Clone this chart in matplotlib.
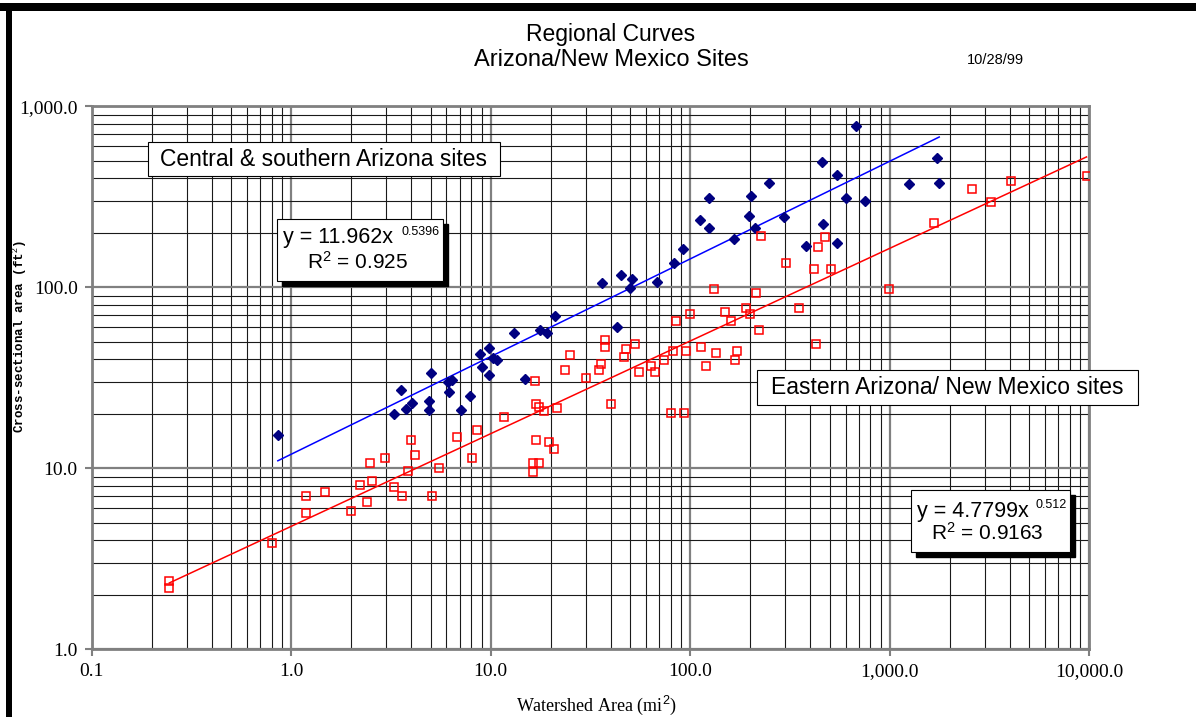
import matplotlib
matplotlib.use("Agg")
import matplotlib.pyplot as plt
from matplotlib.patches import Rectangle
from matplotlib.ticker import FixedLocator, FixedFormatter, LogLocator, NullFormatter
import numpy as np

# ---------------- data ----------------
central_x = [0.857, 3.29, 3.56, 3.74, 4.03, 4.92, 4.92, 5.01, 6.14, 6.43, 6.19, 7.09,
             7.83, 8.85, 9.79, 9.06, 9.79, 10.26, 10.78, 13.1, 14.8, 17.6, 19.1, 21.0,
             36.1, 45.0, 51.1, 49.7, 42.9, 68.2, 82.6, 91.6, 111.5, 123.7, 123.7, 166,
             202, 198, 212, 247, 294, 382, 458, 681, 545, 600, 747, 463, 545, 1250,
             1729, 1769]
central_y = [15.3, 20.0, 27.0, 21.2, 23.0, 23.6, 21.0, 33.5, 30.1, 30.7, 26.5, 21.1,
             25.0, 42.8, 46.2, 36.1, 32.6, 40.8, 39.7, 56.1, 31.0, 58.1, 56.1, 69.7,
             105, 117, 111, 98.7, 60.6, 107, 137, 162, 235, 310, 212, 185,
             321, 249, 212, 376, 244, 170, 494, 781, 417, 310, 301, 224, 175, 372,
             516, 376]

eastern_x = [0.245, 0.245, 0.799, 1.188, 1.188, 1.48, 2.0, 2.20, 2.41, 2.49, 2.55, 2.96,
             3.27, 3.60, 3.87, 3.98, 4.18, 5.07, 5.50, 6.77, 8.53, 8.10, 11.7, 16.6,
             16.9, 17.4, 18.4, 21.6, 16.9, 19.7, 20.7, 16.3, 17.5, 16.3, 23.5, 25.1,
             30.0, 34.9, 35.7, 37.4, 37.4, 40.2, 46.3, 47.8, 52.6, 55.6, 63.9, 66.9,
             73.6, 82.0, 84.5, 80.4, 93.3, 95.6, 100.1, 113.2, 119.4, 132, 134.6, 148.8,
             160.2, 168.4, 171.7, 190.5, 200, 214.6, 220.3, 226.5, 303.4, 352.5, 415.7,
             427.4, 436, 472, 510, 993, 1662, 2588, 3234, 4030, 9683]
eastern_y = [2.39, 2.18, 3.87, 7.03, 5.64, 7.43, 5.81, 8.05, 6.49, 10.66, 8.51, 11.45,
             7.85, 7.06, 9.70, 14.3, 11.8, 7.06, 10.0, 14.95, 16.3, 11.45, 19.1, 30.5,
             22.7, 21.9, 20.8, 21.5, 14.3, 13.9, 12.8, 10.66, 10.66, 9.5, 34.9, 42.3,
             31.4, 35.1, 37.8, 51.2, 47.0, 22.6, 41.1, 45.6, 48.6, 33.9, 36.9, 33.9,
             39.7, 44.5, 65.2, 20.3, 20.3, 44.5, 70.9, 47.0, 36.9, 97.9, 43.2, 72.8,
             65.2, 39.7, 44.5, 76.6, 70.9, 92.7, 58.1, 192, 135.7, 76.6, 125.7,
             48.6, 167.7, 189, 125.7, 97.9, 225.7, 349, 297, 388, 412]

# power-law trendlines shown on the chart: y = a * x^b
central_fit = (11.962, 0.5396)
eastern_fit = (4.7799, 0.512)

x_ticks = [0.1, 1, 10, 100, 1000, 10000]
x_tick_labels = ["0.1", "1.0", "10.0", "100.0", "1,000.0", "10,000.0"]
y_ticks = [1, 10, 100, 1000]
y_tick_labels = ["1.0", "10.0", "100.0", "1,000.0"]

plt.rcParams["mathtext.fontset"] = "custom"
plt.rcParams["mathtext.rm"] = "Liberation Sans"
plt.rcParams["mathtext.it"] = "Liberation Sans:italic"

# ---------------- figure ----------------
W, H = 1196, 717
fig = plt.figure(figsize=(W / 100, H / 100), dpi=100)
fig.patch.set_facecolor("white")

def fx(px):
    return px / W

def fy(py):
    return 1 - py / H

ax_l, ax_r, ax_t, ax_b = 91.7, 1089.3, 106.3, 649.3
ax = fig.add_axes([fx(ax_l), fy(ax_b), fx(ax_r) - fx(ax_l), fy(ax_t) - fy(ax_b)])
ax.set_xscale("log")
ax.set_yscale("log")
ax.set_xlim(0.1, 10000)
ax.set_ylim(1, 1000)

# grid
ax.xaxis.set_major_locator(FixedLocator(x_ticks))
ax.xaxis.set_major_formatter(FixedFormatter(x_tick_labels))
ax.yaxis.set_major_locator(FixedLocator(y_ticks))
ax.yaxis.set_major_formatter(FixedFormatter(y_tick_labels))
ax.xaxis.set_minor_locator(LogLocator(base=10, subs=np.arange(2, 10)))
ax.yaxis.set_minor_locator(LogLocator(base=10, subs=np.arange(2, 10)))
ax.xaxis.set_minor_formatter(NullFormatter())
ax.yaxis.set_minor_formatter(NullFormatter())
ax.grid(which="major", color="#808080", linewidth=1.6)
ax.grid(which="minor", color="#1a1a1a", linewidth=0.8)
ax.set_axisbelow(True)

for s in ax.spines.values():
    s.set_color("#808080")
    s.set_linewidth(2.0)
ax.tick_params(which="major", direction="out", length=5, width=1.5, color="#808080",
               labelsize=14, pad=5)
ax.tick_params(which="minor", length=0)
for lab in ax.get_xticklabels() + ax.get_yticklabels():
    lab.set_fontfamily("Liberation Serif")

# trendlines
for xs, (a, b), col in [(central_x, central_fit, "#0000FF"), (eastern_x, eastern_fit, "#FF0000")]:
    xr = np.array([min(xs), max(xs)])
    ax.plot(xr, a * xr ** b, color=col, linewidth=1.1, zorder=3)

ax.plot(central_x, central_y, linestyle="none", marker="D", markersize=5.2,
        markerfacecolor="#000080", markeredgecolor="#000080", zorder=4)
ax.plot(eastern_x, eastern_y, linestyle="none", marker="s", markersize=5.2,
        markerfacecolor="none", markeredgecolor="#FF0000", markeredgewidth=1.1, zorder=4)

# ---------------- texts ----------------
sans = "Liberation Sans"
fig.text(fx(611), fy(35), "Regional Curves", ha="center", va="center",
         fontsize=16.5, family=sans)
fig.text(fx(611), fy(60), "Arizona/New Mexico Sites", ha="center", va="center",
         fontsize=17, family=sans)
fig.text(fx(995), fy(60), "10/28/99", ha="center", va="center", fontsize=10.5, family=sans)

fig.text(fx(596), fy(705), "Watershed Area (mi$^2$)", ha="center", va="center",
         fontsize=13, family="Liberation Serif")
fig.text(fx(20), fy(337), "Cross-sectional area (ft$^2$)", ha="center", va="center",
         rotation=90, fontsize=9, family="Liberation Mono", weight="bold")


def box(x0, y0, x1, y1, shadow=0):
    if shadow:
        fig.add_artist(Rectangle((fx(x0 + shadow), fy(y1 + shadow)), fx(x1) - fx(x0),
                                 fy(y0) - fy(y1), transform=fig.transFigure,
                                 facecolor="black", edgecolor="black", zorder=5))
    fig.add_artist(Rectangle((fx(x0), fy(y1)), fx(x1) - fx(x0), fy(y0) - fy(y1),
                             transform=fig.transFigure, facecolor="white",
                             edgecolor="black", linewidth=0.8, zorder=6))


box(148, 142, 500, 176)
fig.text(fx(324), fy(159), "Central & southern Arizona sites", ha="center", va="center",
         fontsize=16.5, family=sans, zorder=7)

box(757, 370, 1138, 405)
fig.text(fx(947), fy(387), "Eastern Arizona/ New Mexico sites", ha="center", va="center",
         fontsize=16.5, family=sans, zorder=7)

box(276.7, 219, 442.7, 280.7, shadow=5)
fig.text(fx(283), fy(238), "y = 11.962x", ha="left", va="center", fontsize=15.5,
         family=sans, zorder=7)
fig.text(fx(402), fy(232), "0.5396", ha="left", va="center", fontsize=9,
         family=sans, zorder=7)
fig.text(fx(358), fy(262), "R$^2$ = 0.925", ha="center", va="center", fontsize=15,
         family=sans, zorder=7)

box(910.7, 490, 1070, 551.7, shadow=5)
fig.text(fx(917), fy(512), "y = 4.7799x", ha="left", va="center", fontsize=15.5,
         family=sans, zorder=7)
fig.text(fx(1035), fy(505), "0.512", ha="left", va="center", fontsize=9,
         family=sans, zorder=7)
fig.text(fx(987.5), fy(533), "R$^2$ = 0.9163", ha="center", va="center", fontsize=15,
         family=sans, zorder=7)

# outer black frame (top and left edges)
fig.add_artist(Rectangle((fx(0), fy(11)), 1, fy(3) - fy(11), transform=fig.transFigure,
                         facecolor="black", edgecolor="none", zorder=8))
fig.add_artist(Rectangle((fx(6), 0), fx(12) - fx(6), fy(3), transform=fig.transFigure,
                         facecolor="black", edgecolor="none", zorder=8))

fig.savefig("out.png", dpi=100)
